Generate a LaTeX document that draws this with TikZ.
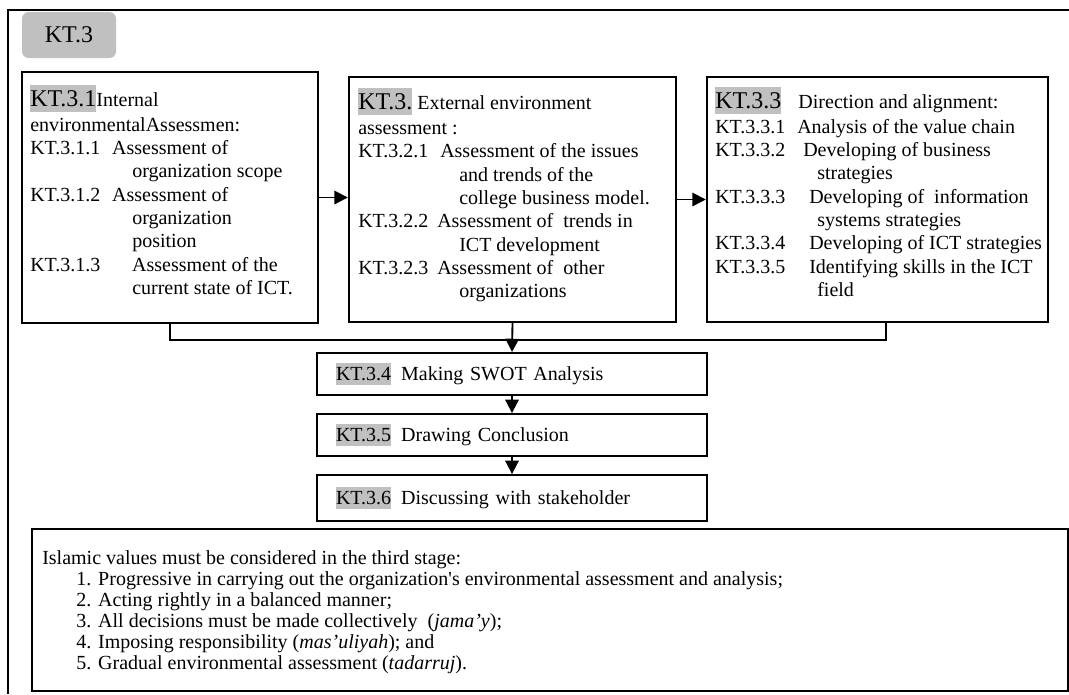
\documentclass[tikz,border=0pt]{standalone}
\usepackage{fontspec}
\setmainfont{Liberation Serif}
\usetikzlibrary{arrows.meta,calc}
\definecolor{labelgray}{HTML}{C0C0C0}
% grey highlighted step label
\newcommand{\kt}[1]{{\setlength{\fboxsep}{0pt}\colorbox{labelgray}{\rule[-0.24em]{0pt}{1.12em}#1}}}
\newcommand{\bigkt}[1]{{\fontsize{18pt}{21pt}\selectfont\kt{#1}}}
% item number in a column of fixed width
\newcommand{\at}[2]{\makebox[#1][l]{#2}}
\newcommand{\bodyfont}{\fontsize{15pt}{17.5pt}\selectfont}
\begin{document}
\begin{tikzpicture}[x=0.75pt,y=-0.75pt,
  frameline/.style={line width=1.2pt},
  panel/.style={draw, line width=1.8pt, inner sep=0pt},
  stepbox/.style={draw, line width=1.4pt, inner xsep=14.25pt, inner ysep=0pt,
    text width=264pt, align=left, font=\bodyfont},
  arr/.style={line width=1.4pt, -{Triangle[width=10pt,length=10pt]}},
  tab/.style={fill=labelgray, rounded corners=5pt, minimum width=70.5pt,
    minimum height=34.5pt, inner sep=0pt},
  txt/.style={anchor=base west, inner sep=0pt}]
\useasboundingbox (0,0) rectangle (1069,694);

% outer frame
\draw[frameline] (8,694) -- (8,10) -- (1069,10);

% stage tab
\node[tab] (kt3) at (69,35) {\fontsize{18pt}{21pt}\selectfont KT.3};

% three assessment panels
\node[panel, minimum width=222pt, minimum height=188.25pt] (p1) at (170,197.5) {};
\node[panel, minimum width=245.25pt, minimum height=183.75pt] (p2) at (512.5,199.5) {};
\node[panel, minimum width=255.75pt, minimum height=183.75pt] (p3) at (877.5,199.5) {};

\node[txt] (t1) at (30,106) {\parbox[t]{280pt}{\bodyfont
\bigkt{KT.3.1}Internal\\[1.25pt]
environmentalAssessmen:\\
\at{61.5pt}{KT.3.1.1}Assessment of\\
\hspace*{76.5pt}organization scope\\
\at{61.5pt}{KT.3.1.2}Assessment of\\
\hspace*{76.5pt}organization\\
\hspace*{76.5pt}position\\
\at{76.5pt}{KT.3.1.3}Assessment of the\\
\hspace*{76.5pt}current state of ICT.}};

\node[txt] (t2) at (358,109.5) {\parbox[t]{300pt}{\bodyfont
\bigkt{KT.3.}\ External environment\\[1.25pt]
assessment :\\
\at{61.5pt}{KT.3.2.1}Assessment of the issues\\
\hspace*{75.75pt}and trends of the\\
\hspace*{75.75pt}college business model.\\
\at{59.25pt}{KT.3.2.2}Assessment of\ \ trends in\\
\hspace*{75.75pt}ICT development\\
\at{59.25pt}{KT.3.2.3}Assessment of\ \ other\\
\hspace*{75.75pt}organizations}};

\node[txt] (t3) at (715,108) {\parbox[t]{300pt}{\bodyfont
\bigkt{KT.3.3}\hspace{12.75pt}Direction and alignment:\\[1.25pt]
\at{61.5pt}{KT.3.3.1}Analysis of the value chain\\
\at{66pt}{KT.3.3.2}Developing of business\\
\hspace*{76.5pt}strategies\\
\at{70.5pt}{KT.3.3.3}Developing of\ \ information\\
\hspace*{76.5pt}systems strategies\\
\at{70.5pt}{KT.3.3.4}Developing of ICT strategies\\
\at{70.5pt}{KT.3.3.5}Identifying skills in the ICT\\
\hspace*{76.5pt}field}};

\draw[arr] (p1.east) -- (p1.east -| p2.west);
\draw[arr] (p2.east) -- (p2.east -| p3.west);

% following steps
\node[stepbox, minimum height=31.5pt] (s4) at (512,374) {\kt{KT.3.4}\hspace{7.5pt}Making SWOT Analysis};
\node[stepbox, minimum height=31.5pt] (s5) at (512,435) {\kt{KT.3.5}\hspace{7.5pt}Drawing Conclusion};
\node[stepbox, minimum height=34.5pt] (s6) at (512,498) {\kt{KT.3.6}\hspace{7.5pt}Discussing with stakeholder};

% joining bracket under the panels
\coordinate (jr) at ($(p3.south)+(8.5,0)$);
\draw[line width=1.2pt] (p1.south) -- ++(0,16) -| (jr);
\draw[arr] (p2.south) -- (s4.north);
\draw[arr] (s4.south) -- (s5.north);
\draw[arr] (s5.south) -- (s6.north);

% Islamic values
\node[draw, line width=1.4pt, minimum width=777pt, minimum height=121.5pt, inner sep=0pt] (vals) at (550,610) {};
\node[txt] (valtxt) at (42,564) {\parbox[t]{700pt}{\fontsize{15pt}{15.8pt}\selectfont
Islamic values must be considered in the third stage:\\
\hspace*{25.5pt}\at{16.5pt}{1.}Progressive in carrying out the organization\textquotesingle s environmental assessment and analysis;\\
\hspace*{25.5pt}\at{16.5pt}{2.}Acting rightly in a balanced manner;\\
\hspace*{25.5pt}\at{16.5pt}{3.}All decisions must be made collectively\ \ (\textit{jama’y});\\
\hspace*{25.5pt}\at{16.5pt}{4.}Imposing responsibility (\textit{mas’uliyah}); and\\
\hspace*{25.5pt}\at{16.5pt}{5.}Gradual environmental assessment (\textit{tadarruj}).}};
\end{tikzpicture}
\end{document}
